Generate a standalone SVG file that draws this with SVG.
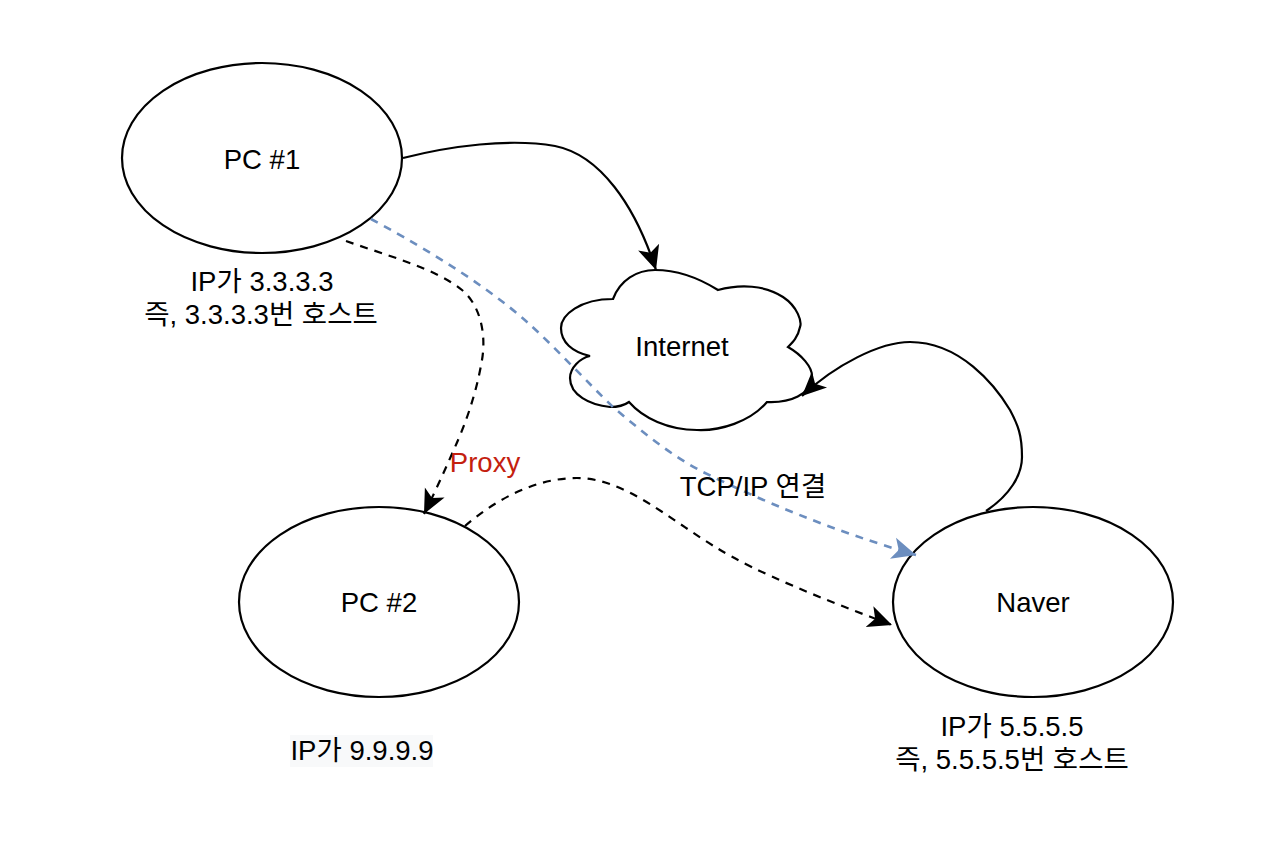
<svg xmlns="http://www.w3.org/2000/svg" width="1280" height="867" viewBox="0 0 1280 867">
<style>
text{font-family:"Liberation Sans","Noto Sans CJK KR",sans-serif;font-size:27.5px;fill:#000;text-anchor:middle}
.shape{fill:#fff;stroke:#000;stroke-width:2.2}
.c{fill:none;stroke:#000;stroke-width:2.2}
.d{stroke-dasharray:8 7}
.blue{stroke:#6c8ebf;stroke-width:2.6}
</style>
<defs>
<marker id="a" markerUnits="userSpaceOnUse" viewBox="0 0 26 24" refX="24" refY="12" markerWidth="26" markerHeight="24" orient="auto"><path d="M0 1L24 12L0 23L6 12Z" fill="#000"/></marker>
<marker id="b" markerUnits="userSpaceOnUse" viewBox="0 0 26 24" refX="24" refY="12" markerWidth="26" markerHeight="24" orient="auto"><path d="M0 1L24 12L0 23L6 12Z" fill="#6c8ebf"/></marker>
</defs>
<rect width="1280" height="867" fill="#fff"/>
<g id="node-pc1"><ellipse class="shape" cx="262" cy="158" rx="140" ry="95"/><text x="262" y="169">PC #1</text></g>
<g id="node-pc2"><ellipse class="shape" cx="379" cy="602" rx="140" ry="95"/><text x="379" y="612">PC #2</text></g>
<g id="node-naver"><ellipse class="shape" cx="1033" cy="602" rx="140" ry="95"/><text x="1033" y="612">Naver</text></g>
<g id="node-internet"><path class="shape" d="M613 299C620 280 637 270 655 270C680 270 702 280 718 290C740 284 765 285 783 297C798 307 802 322 800 327C798 337 793 342 788 347C802 355 812 367 812 376C811 395 790 403 767 402C750 422 720 431 697 430C668 430 643 418 629 402C622 407 615 407 610 407C590 405 570 395 570 378C570 368 580 358 590 356C572 352 561 342 561 328C561 315 580 299 613 299Z"/><text x="682" y="356">Internet</text></g>
<g id="connectors">
<path class="c" marker-end="url(#a)" d="M403 158C450 146 510 138 555 146C600 155 635 205 656 270"/>
<path class="c" marker-end="url(#a)" d="M986 511C1010 495 1022 475 1022 457C1022 435 1018 425 1010 410C995 385 960 342 910 342C880 342 835 365 802 396"/>
<path class="c d" marker-end="url(#a)" d="M346 241C385 255 435 268 462 290C478 303 487 330 482 360C476 395 465 425 455 447C445 470 435 492 424 514"/>
<path class="c d" marker-end="url(#a)" d="M465 526C495 500 535 478 577 478C625 478 670 520 717 548C755 572 825 600 892 625"/>
<path class="c d blue" marker-end="url(#b)" d="M371 219C410 240 480 280 527 322C550 342 590 385 613 407C640 430 670 455 703 472C760 500 830 530 916 555"/>
</g>
<text x="262" y="291">IP가 3.3.3.3</text>
<text x="261" y="324">즉, 3.3.3.3번 호스트</text>
<text x="485" y="472" style="fill:#c4200e">Proxy</text>
<text x="753" y="496">TCP/IP 연결</text>
<rect x="290" y="735" width="143" height="32" fill="#f8f9fa"/>
<text x="362" y="760">IP가 9.9.9.9</text>
<text x="1012" y="736">IP가 5.5.5.5</text>
<text x="1012" y="769">즉, 5.5.5.5번 호스트</text>
</svg>
